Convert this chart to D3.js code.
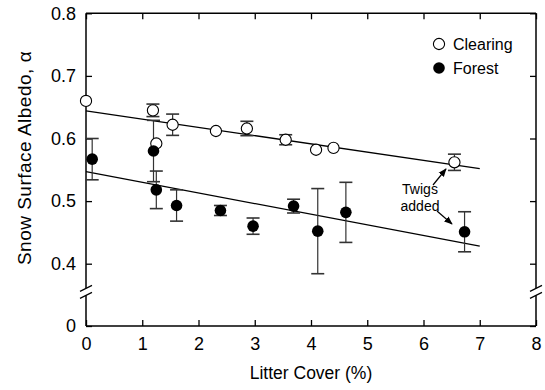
<!DOCTYPE html>
<html>
<head>
<meta charset="utf-8">
<script src="https://cdn.jsdelivr.net/npm/d3@7"></script>
<style>
  body { margin: 0; background: #fff; }
  text { font-family: "Liberation Sans", Arial, sans-serif; fill: #000; }
</style>
</head>
<body>
<div id="chart-area"></div>
<script>
const width = 545;
const height = 390;

// litter cover (%) and albedo
const clearingX = [0, 1.19, 1.25, 1.54, 2.31, 2.86, 3.55, 4.09, 4.40, 6.55];
const clearingY = [0.660, 0.645, 0.592, 0.622, 0.612, 0.616, 0.598, 0.582, 0.585, 0.562];
const clearingErr = [0, 0.010, 0, 0.017, 0, 0.0115, 0.008, 0, 0, 0.013];

const forestX = [0.11, 1.2, 1.25, 1.61, 2.39, 2.97, 3.69, 4.12, 4.62, 6.73];
const forestY = [0.567, 0.580, 0.518, 0.493, 0.485, 0.460, 0.492, 0.452, 0.482, 0.451];
const forestErr = [0.033, 0.049, 0.030, 0.025, 0.008, 0.013, 0.011, 0.068, 0.048, 0.032];

// regression lines (endpoints at x = 0 and x = 7)
const clearingFit = [[0, 0.644], [7, 0.552]];
const forestFit = [[0, 0.547], [7, 0.428]];

const xTicks = [0, 1, 2, 3, 4, 5, 6, 7, 8];
const yTicks = [0, 0.4, 0.5, 0.6, 0.7, 0.8];

let svg = d3.select('#chart-area').append('svg').attr('width', width).attr('height', height);

const pLeft = 86, pRight = 536, pTop = 13.3, pBottom = 326;

let x = d3.scaleLinear().domain([0, 8]).range([pLeft, pRight]);
// broken axis: 0 sits at the bottom, linear section from 0.35 to 0.8
let y = d3.scaleLinear().domain([0, 0.35, 0.8]).range([pBottom, 295, pTop]);

let clearing = clearingX.map((v, i) => ({ x: v, y: clearingY[i], e: clearingErr[i] }));
let forest = forestX.map((v, i) => ({ x: v, y: forestY[i], e: forestErr[i] }));

// axes with inward ticks
const fmt = (d) => d === 0 ? '0' : d3.format('.1f')(d);

svg.append('g').attr('transform', `translate(0,${pBottom})`)
    .call(d3.axisBottom(x).tickValues(xTicks).tickSizeInner(-6).tickSizeOuter(0).tickPadding(11))
    .call(g => g.select('.domain').remove());
svg.append('g').attr('transform', `translate(0,${pTop})`)
    .call(d3.axisTop(x).tickValues(xTicks).tickSizeInner(-6).tickSizeOuter(0).tickFormat(''))
    .call(g => g.select('.domain').remove());
svg.append('g').attr('transform', `translate(${pLeft},0)`)
    .call(d3.axisLeft(y).tickValues(yTicks).tickSizeInner(-6).tickSizeOuter(0).tickPadding(10).tickFormat(fmt))
    .call(g => g.select('.domain').remove());
svg.append('g').attr('transform', `translate(${pRight},0)`)
    .call(d3.axisRight(y).tickValues(yTicks).tickSizeInner(-6).tickSizeOuter(0).tickFormat(''))
    .call(g => g.select('.domain').remove());

svg.selectAll('.tick line').attr('stroke', '#000').attr('stroke-width', 1.3);
svg.selectAll('.tick text').style('font-size', '18px').style('font-family', '"Liberation Sans", Arial, sans-serif');

// frame with axis breaks
const brk = y(0.355);
const frame = svg.append('g').attr('stroke', '#000').attr('stroke-width', 1.5).attr('fill', 'none');
frame.append('line').attr('x1', pLeft).attr('x2', pRight).attr('y1', pTop).attr('y2', pTop);
frame.append('line').attr('x1', pLeft).attr('x2', pRight).attr('y1', pBottom).attr('y2', pBottom);
[pLeft, pRight].forEach((ax) => {
    frame.append('line').attr('x1', ax).attr('x2', ax).attr('y1', pTop).attr('y2', brk - 3.5);
    frame.append('line').attr('x1', ax).attr('x2', ax).attr('y1', brk + 3.5).attr('y2', pBottom);
    [-3.5, 3.5].forEach((o) => {
        frame.append('line')
            .attr('x1', ax - 6).attr('y1', brk + o + 3)
            .attr('x2', ax + 6).attr('y2', brk + o - 3)
            .attr('stroke-width', 1.2);
    });
});

// fit lines
let line = d3.line().x(d => x(d[0])).y(d => y(d[1]));
svg.append('path').datum(clearingFit).attr('d', line).attr('stroke', '#000').attr('stroke-width', 1.3).attr('fill', 'none');
svg.append('path').datum(forestFit).attr('d', line).attr('stroke', '#000').attr('stroke-width', 1.3).attr('fill', 'none');

// error bars
function errorBars(data) {
    let g = svg.append('g').attr('stroke', '#333').attr('fill', 'none');
    let bars = data.filter(d => d.e > 0);
    g.selectAll('line.v').data(bars).enter().append('line')
        .attr('x1', d => x(d.x)).attr('x2', d => x(d.x))
        .attr('y1', d => y(d.y + d.e)).attr('y2', d => y(d.y - d.e))
        .attr('stroke-width', 1.2);
    g.selectAll('line.t').data(bars).enter().append('line')
        .attr('x1', d => x(d.x) - 6.5).attr('x2', d => x(d.x) + 6.5)
        .attr('y1', d => y(d.y + d.e)).attr('y2', d => y(d.y + d.e))
        .attr('stroke-width', 1.6);
    g.selectAll('line.b').data(bars).enter().append('line')
        .attr('x1', d => x(d.x) - 6.5).attr('x2', d => x(d.x) + 6.5)
        .attr('y1', d => y(d.y - d.e)).attr('y2', d => y(d.y - d.e))
        .attr('stroke-width', 1.6);
}
errorBars(clearing);
errorBars(forest);

// points
svg.append('g').selectAll('circle').data(clearing).enter().append('circle')
    .attr('cx', d => x(d.x)).attr('cy', d => y(d.y)).attr('r', 5.6)
    .attr('fill', '#fff').attr('stroke', '#000').attr('stroke-width', 1.1);
svg.append('g').selectAll('circle').data(forest).enter().append('circle')
    .attr('cx', d => x(d.x)).attr('cy', d => y(d.y)).attr('r', 5.8)
    .attr('fill', '#000');

// legend
const legend = svg.append('g');
legend.append('circle').attr('cx', 439).attr('cy', 44).attr('r', 5.6).attr('fill', '#fff').attr('stroke', '#000').attr('stroke-width', 1.1);
legend.append('text').attr('x', 453).attr('y', 50).style('font-size', '16px').text('Clearing');
legend.append('circle').attr('cx', 439).attr('cy', 68).attr('r', 5.8).attr('fill', '#000');
legend.append('text').attr('x', 453).attr('y', 74).style('font-size', '16px').text('Forest');

// annotation
svg.append('defs').append('marker')
    .attr('id', 'arrow').attr('viewBox', '0 0 10 10').attr('refX', 9).attr('refY', 5)
    .attr('markerWidth', 7).attr('markerHeight', 7).attr('orient', 'auto')
    .append('path').attr('d', 'M0,1 L10,5 L0,9 Z').attr('fill', '#000');
svg.append('line').attr('x1', 433).attr('y1', 185).attr('x2', 446).attr('y2', 169)
    .attr('stroke', '#000').attr('stroke-width', 1.2).attr('marker-end', 'url(#arrow)');
svg.append('line').attr('x1', 437).attr('y1', 211).attr('x2', 452).attr('y2', 224)
    .attr('stroke', '#000').attr('stroke-width', 1.2).attr('marker-end', 'url(#arrow)');
svg.append('text').attr('x', 420).attr('y', 194).attr('text-anchor', 'middle').style('font-size', '14px').text('Twigs');
svg.append('text').attr('x', 420).attr('y', 211).attr('text-anchor', 'middle').style('font-size', '14px').text('added');

// axis titles
svg.append('text').attr('x', (pLeft + pRight) / 2).attr('y', 379).attr('text-anchor', 'middle')
    .style('font-size', '17.5px').text('Litter Cover (%)');
svg.append('text').attr('transform', 'translate(31,158) rotate(-90)').attr('text-anchor', 'middle')
    .style('font-size', '19px').style('letter-spacing', '0.5px').text('Snow Surface Albedo, α');
</script>
</body>
</html>
